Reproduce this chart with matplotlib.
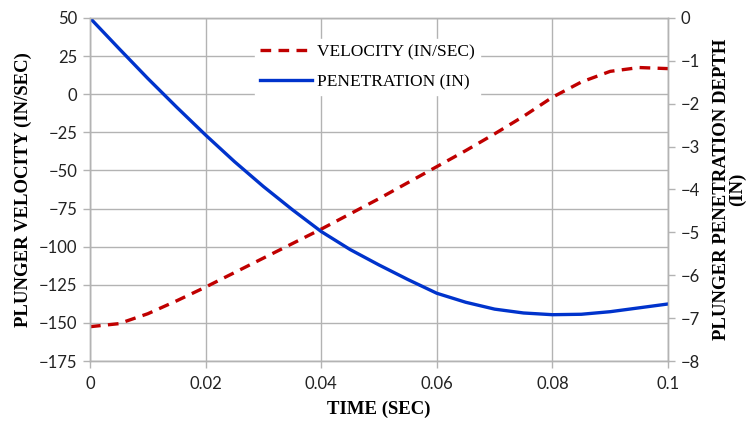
import matplotlib
matplotlib.use("Agg")
import matplotlib.pyplot as plt
from matplotlib.ticker import MultipleLocator

time_s = [0, 0.005, 0.01, 0.015, 0.02, 0.025, 0.03, 0.035, 0.04, 0.045, 0.05,
          0.055, 0.06, 0.065, 0.07, 0.075, 0.08, 0.085, 0.09, 0.095, 0.1]
velocity = [-152.5, -150.5, -144, -135.5, -126.5, -117, -107.5, -98, -88.5, -78.5, -68.5,
            -58, -47.5, -37, -26, -14.5, -2, 8, 15, 17.5, 16.8]
penetration = [0, -0.71, -1.41, -2.08, -2.73, -3.35, -3.93, -4.47, -4.98, -5.4, -5.76,
               -6.1, -6.42, -6.63, -6.79, -6.88, -6.92, -6.91, -6.85, -6.76, -6.67]

x_ticks = [0, 0.02, 0.04, 0.06, 0.08, 0.1]
x_labels = ["0", "0.02", "0.04", "0.06", "0.08", "0.1"]

tick_font = "Lato"
title_font = "Liberation Serif"
grid_c = "#b3b3b3"

fig = plt.figure(figsize=(7.47, 4.23), dpi=100)
ax1 = fig.add_axes([90/747, 1-361/423, (668-90)/747, (361-18)/423])
ax2 = ax1.twinx()

lv, = ax1.plot(time_s, velocity, color="#c00000", lw=2.4, ls=(0, (3.2, 2.2)),
               label="VELOCITY (IN/SEC)")
lp, = ax2.plot(time_s, penetration, color="#0033cc", lw=2.4,
               label="PENETRATION (IN)")

ax1.set_xlim(0, 0.1)
ax1.set_ylim(-175, 50)
ax2.set_ylim(-8, 0)
ax1.yaxis.set_major_locator(MultipleLocator(25))
ax2.yaxis.set_major_locator(MultipleLocator(1))
ax1.set_xticks(x_ticks)
ax1.set_xticklabels(x_labels)

ax1.grid(True, color=grid_c, lw=1.0)
ax1.set_axisbelow(True)

for ax in (ax1, ax2):
    for s in ax.spines.values():
        s.set_color(grid_c)
        s.set_linewidth(1.0)
    ax.tick_params(colors=grid_c, labelcolor="#222222", length=5, width=1.0,
                   labelsize=12)
    for lab in ax.get_xticklabels() + ax.get_yticklabels():
        lab.set_family(tick_font)
ax1.tick_params(axis="x", pad=6)
ax1.tick_params(axis="y", pad=4)
ax2.tick_params(axis="y", pad=4)

ax1.set_xlabel("TIME (SEC)", family=title_font, weight="bold", fontsize=13.5, labelpad=6)
ax1.set_ylabel("PLUNGER VELOCITY (IN/SEC)", family=title_font, weight="bold",
               fontsize=13.5, labelpad=5)
ax2.set_ylabel("PLUNGER PENETRATION DEPTH\n(IN)", family=title_font, weight="bold",
               fontsize=13.5, rotation=90, linespacing=0.95, va="top")
ax2.yaxis.set_label_coords(1.077, 0.5)

leg = ax2.legend(handles=[lv, lp], loc="upper left", bbox_to_anchor=(0.27, 0.965),
                 frameon=True, framealpha=1, facecolor="white", edgecolor="white",
                 fancybox=False, prop={"family": title_font, "size": 12.5},
                 handlelength=3.0, handletextpad=0.3, labelspacing=0.8,
                 borderpad=0.3)

fig.savefig("out.png", dpi=100)
